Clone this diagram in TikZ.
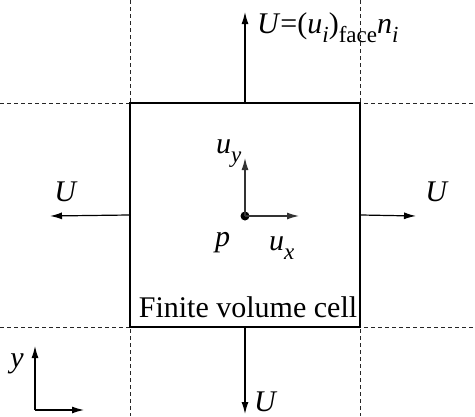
\documentclass[tikz,border=0pt]{standalone}
\usepackage{fontspec}
\setmainfont{Liberation Serif}
\usepackage{tikz}
\usetikzlibrary{arrows.meta,positioning,calc}
\newcommand{\vi}[1]{\textit{#1}}
\newcommand{\sbi}[1]{\raisebox{-0.3em}{\fontsize{23}{23}\selectfont #1}}

\begin{document}
\begin{tikzpicture}[x=1pt,y=-1pt,>={Latex[length=12pt,width=7pt]},
  gridline/.style={black!85,dash pattern=on 3.5pt off 3.5pt,line width=1pt},
  flux/.style={->,line width=1.2pt},
  every node/.style={font=\fontsize{30}{32}\selectfont,inner sep=0pt}]
\useasboundingbox (0,0) rectangle (475,416);
% neighbouring cell faces
\draw[gridline] (0,103) -- (475,103);
\draw[gridline] (0,327) -- (475,327);
\draw[gridline] (130,0) -- (130,416);
\draw[gridline] (360,0) -- (360,416);
\node[draw,line width=2.4pt,minimum width=230pt,minimum height=224pt] (cell) at (245,215) {};
\node[anchor=base] (name) at (248,317) {Finite volume cell};
% face fluxes
\coordinate (ntip) at (245,12);
\coordinate (stip) at (245,414);
\coordinate (wtip) at (50,216);
\coordinate (etip) at (416,216);
\draw[flux] (cell.north) -- (ntip);
\draw[flux] (cell.south) -- (stip);
\draw[flux] (cell.west) -- (wtip);
\draw[flux] (cell.east) -- (etip);
\node[anchor=base west] (nlab) at (257,33) {\vi{U}=(\vi{u}\sbi{\vi{i}})\sbi{face}\vi{n}\sbi{\vi{i}}};
\node[anchor=base west] (slab) at (254,411) {\vi{U}};
\node[anchor=base] (wlab) at (66,201) {\vi{U}};
\node[anchor=base] (elab) at (437,201) {\vi{U}};
% cell centre
\node[circle,fill,minimum size=9pt] (p) at (245,216) {};
\coordinate (uy) at (245,158);
\coordinate (ux) at (299,216);
\draw[flux,black!80] (p.center) -- (uy);
\draw[flux,black!80] (p.center) -- (ux);
\node[anchor=base west] (uylab) at (216,153) {\vi{u}\sbi{\vi{y}}};
\node[anchor=base west] (uxlab) at (269,250) {\vi{u}\sbi{\vi{x}}};
\node[anchor=base west] (plab) at (215,246) {\vi{p}};
% axes
\coordinate (o) at (35,410);
\coordinate (yax) at (35,346);
\coordinate (xax) at (84,410);
\draw[flux] (o) -- (yax);
\draw[flux] (o) -- (xax);
\node[anchor=base] (ylab) at (17,367) {\vi{y}};
\end{tikzpicture}
\end{document}
